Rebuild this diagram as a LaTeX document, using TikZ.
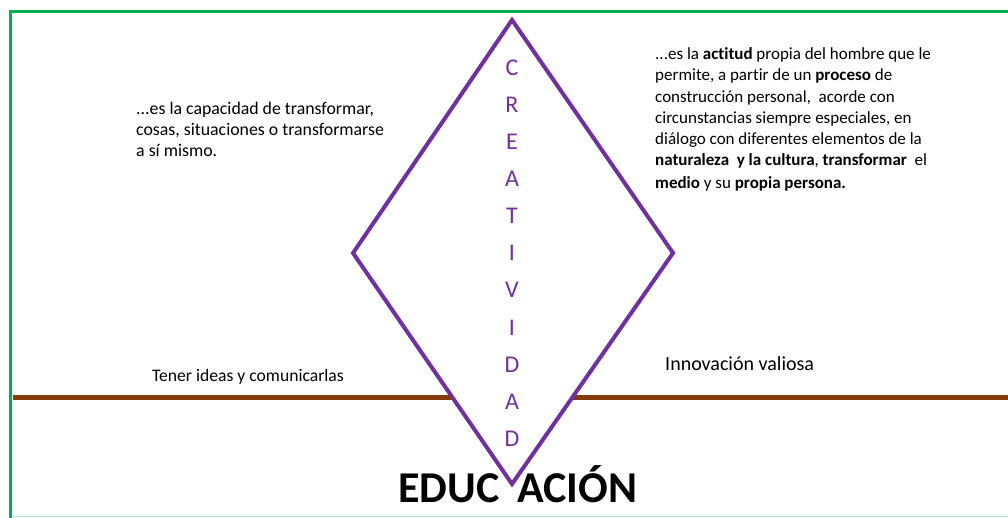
\documentclass[tikz,border=0pt]{standalone}
\usepackage{fontspec}
\setmainfont{Carlito}[Ligatures={NoCommon}]
\definecolor{offgreen}{HTML}{00B050}
\definecolor{lightgr}{HTML}{B5E6CB}
\definecolor{offbrown}{HTML}{843C0C}
\definecolor{offpurple}{HTML}{7030A0}
\tikzset{
  para/.style={inner sep=0pt, anchor=base west, align=left},
  letter/.style={inner sep=0pt, anchor=base, text=offpurple, font=\fontsize{24}{24}\selectfont},
}
\begin{document}
\begin{tikzpicture}[x=1pt,y=-1pt]
\useasboundingbox (0,0) rectangle (1008,518);
% frame
\draw[lightgr, line width=1.5pt] (10,516.5) -- (1008,516.5);
\draw[offgreen, line width=3.5pt] (1008,11.5) -- (10.5,11.5) -- (10.5,518);
% brown line
\draw[offbrown, line width=5pt] (12.5,397.5) -- (1008,397.5);
% diamond
\coordinate (top) at (512,20);
\coordinate (lft) at (353,253);
\coordinate (rgt) at (673,253);
\coordinate (bot) at (512,484);
\draw[offpurple, line width=4pt, fill=white, line join=miter] (top) -- (rgt) -- (bot) -- (lft) -- cycle;
% letters
\foreach \l [count=\i from 0] in {C,R,E,A,T,I,V,I,D,A,D}
  \node[letter] (l\i) at (512,{76+37*\i}) {\l};
% texts (anchor base = baseline of last line)
\node[para, font=\fontsize{17.8}{21}\selectfont] (left) at (136,157) {...es la capacidad de transformar,\\cosas, situaciones o transformarse\\a sí mismo.};
\node[para, font=\fontsize{17}{21.2}\selectfont] (right) at (655,189) { ...es la \textbf{actitud} propia del hombre que le\\permite, a partir de un \textbf{proceso} de\\construcción personal,\ \ acorde con\\circunstancias siempre especiales, en\\diálogo con diferentes elementos de la\\\textbf{naturaleza\ \ y la cultura}, \textbf{transformar}\ \ el\\[2pt]\textbf{medio} y su \textbf{propia persona.}};
\node[para, font=\fontsize{17.6}{20}\selectfont] (tener) at (152,381) {Tener ideas y comunicarlas};
\node[para, font=\fontsize{20}{22}\selectfont] (innov) at (665,370) {Innovación valiosa};
\node[inner sep=0pt, anchor=base west, font=\bfseries\fontsize{44}{44}\selectfont] (edu) at (398,502) {EDUC\hspace{18pt}ACIÓN};
\end{tikzpicture}
\end{document}
